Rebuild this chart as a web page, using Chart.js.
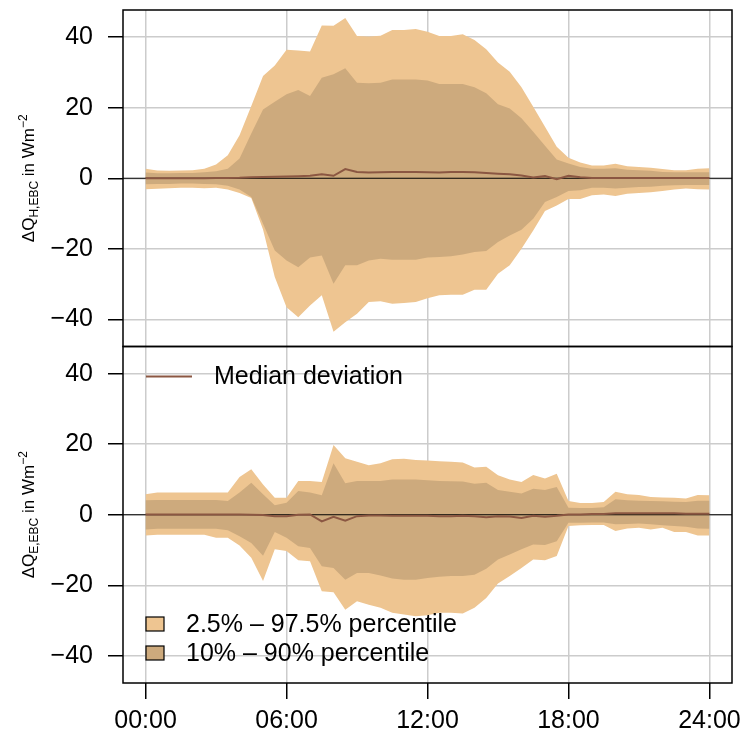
<!DOCTYPE html>
<html>
<head>
<meta charset="utf-8">
<script src="https://cdn.jsdelivr.net/npm/chart.js@4.4.0/dist/chart.umd.min.js"></script>
<style>
  html, body { margin: 0; padding: 0; background: #fff; }
  #wrap { position: relative; width: 743px; height: 740px; }
</style>
</head>
<body>
<div id="wrap"><canvas id="grafico"></canvas></div>
<script>
// horas do dia, de meia em meia hora
const HORAS = [0, 0.5, 1, 1.5, 2, 2.5, 3, 3.5, 4, 4.5, 5, 5.5, 6, 6.5, 7, 7.5, 8, 8.5, 9, 9.5,
  10, 10.5, 11, 11.5, 12, 12.5, 13, 13.5, 14, 14.5, 15, 15.5, 16, 16.5, 17, 17.5, 18, 18.5, 19, 19.5,
  20, 20.5, 21, 21.5, 22, 22.5, 23, 23.5, 24];

// painel de cima: delta Q_H
const H_P975 = [2.7, 2.2, 2.1, 2.2, 2.3, 2.7, 3.9, 6.5, 12.2, 20.5, 29, 32, 36.4, 36.2, 35.9, 43.3, 43.2, 45.4, 40.3, 40.2,
  40.4, 42, 42, 42.3, 41.5, 40.3, 40.3, 40.8, 39.2, 36.6, 32.8, 30.2, 25.8, 20.3, 14.6, 8.9, 5.8, 4.5, 3.6, 3.6,
  4.1, 3.4, 3.2, 3.0, 2.6, 2.3, 2.3, 2.7, 2.8];
const H_P90 = [1.6, 1.4, 1.4, 1.5, 1.5, 1.7, 2.0, 2.7, 5.6, 12.7, 19.5, 21.7, 23.8, 25, 23.3, 28.5, 29.5, 31.2, 27.1, 26.9,
  27.1, 28, 28, 28, 27.7, 26.7, 26.7, 26.7, 25.8, 24.1, 21, 19.8, 17, 13.2, 9.2, 5.3, 4.2, 3.2, 2.7, 2.7,
  2.8, 2.4, 2.3, 2.1, 1.8, 1.7, 1.7, 1.7, 1.7];
const H_P10 = [-1.7, -1.6, -1.6, -1.5, -1.5, -1.6, -1.7, -2.1, -3.2, -5.3, -12.9, -20.5, -23.3, -25.2, -22.5, -21.9, -29.9, -24.7, -24.7, -23.3,
  -22.8, -23.1, -23.1, -23.1, -22.5, -22.3, -22.1, -21.6, -20.9, -20.6, -18.1, -16.2, -14.6, -11.5, -6.7, -5.3, -3.6, -3.4, -2.7, -2.7,
  -2.9, -2.7, -2.5, -2.4, -2.1, -2.0, -1.9, -1.9, -1.9];
const H_P025 = [-3.1, -3.0, -2.8, -2.7, -2.7, -2.8, -2.7, -3.2, -4.2, -5.6, -14.5, -28, -36.6, -39.4, -36.1, -33.2, -43.5, -40.8, -38.4, -35.1,
  -34.9, -35.6, -35.4, -35.1, -34, -33.2, -33.0, -33.0, -31.6, -31.6, -27.1, -24.7, -20, -14.8, -9.3, -7.7, -5.9, -5.9, -4.8, -4.6,
  -5.0, -4.4, -4.2, -4.0, -3.6, -3.2, -2.9, -3.1, -3.2];
const H_MED = [0, 0, 0, 0, 0, 0, 0.05, 0.1, 0.15, 0.3, 0.35, 0.4, 0.5, 0.6, 0.7, 1.1, 0.7, 2.6, 1.8, 1.6,
  1.7, 1.8, 1.8, 1.8, 1.7, 1.6, 1.8, 1.8, 1.7, 1.5, 1.3, 1.1, 0.8, 0.2, 0.6, -0.3, 0.7, 0.3, 0.1, 0.1,
  0.1, 0.1, 0.1, 0.1, 0.1, 0.1, 0.1, 0.1, 0.1];

// painel de baixo: delta Q_E
const E_P975 = [5.8, 6.3, 6.3, 6.3, 6.3, 6.3, 6.3, 6.3, 10.7, 12.9, 8.6, 4.8, 4.8, 9.6, 9.6, 9.3, 19.8, 16, 15, 14,
  14.6, 15.7, 15.9, 15.5, 15.4, 15.2, 15, 14.8, 13.4, 13.6, 11.2, 10, 9.3, 11.3, 10.3, 11.6, 3.9, 3.3, 3.3, 3.6,
  6.5, 5.8, 5.6, 5.0, 4.9, 4.8, 4.6, 5.6, 5.5];
const E_P90 = [4.1, 4.2, 4.2, 4.2, 4.2, 4.2, 4.2, 3.9, 6.3, 9.1, 5.8, 2.7, 3.4, 6.7, 6.3, 5.5, 14.6, 8.9, 9.6, 9.6,
  9.6, 10, 10, 10, 9.8, 9.6, 9.5, 9.4, 8.8, 9.1, 7, 6.5, 6, 7.4, 7, 7.9, 2, 1.9, 1.9, 2.1,
  4.4, 4.1, 4, 3.9, 3.8, 3.7, 3.6, 4.0, 4.0];
const E_P10 = [-4.2, -4.0, -4.0, -4.0, -4.0, -4.0, -4.0, -4.4, -6.1, -8, -11.6, -4.9, -6.5, -8.9, -9.4, -14.6, -15.1, -18.4, -16.5, -16.5,
  -17.2, -18.1, -18.4, -18.4, -17.9, -17.6, -17.4, -17.4, -17, -15.3, -12.7, -11.3, -9.8, -8.4, -8.6, -7.5, -2.3, -2.3, -2.2, -2.2,
  -2.7, -2.6, -2.5, -2.7, -3, -3.2, -3.4, -3.9, -4.0];
const E_P025 = [-5.9, -5.7, -5.7, -5.7, -5.7, -5.7, -6.5, -6.5, -8.7, -12.2, -18.8, -9.8, -10.3, -12.9, -13.2, -21.7, -22, -26.9, -24.5, -25.5,
  -26.4, -27.8, -28.3, -28.8, -28.5, -27.8, -27.8, -28, -26.4, -23.6, -19.5, -17.4, -15.1, -12.7, -12.9, -11.7, -3.2, -3.0, -2.9, -2.9,
  -4.6, -3.9, -3.7, -4.2, -3.7, -4.9, -4.9, -5.9, -5.9];
const E_MED = [0.1, 0.1, 0.1, 0.1, 0.1, 0.1, 0.1, 0.1, 0.1, 0, -0.1, -0.4, -0.4, 0, 0.1, -1.9, -0.6, -1.7, -0.4, -0.2,
  -0.2, -0.3, -0.3, -0.3, -0.3, -0.4, -0.4, -0.3, -0.4, -0.7, -0.4, -0.5, -0.9, -0.3, -0.6, -0.3, 0.1, 0.1, 0.2, 0.2,
  0.4, 0.4, 0.4, 0.4, 0.4, 0.4, 0.3, 0.3, 0.3];

const X_TICKS = [0, 6, 12, 18, 24];
const X_LABELS = ['00:00', '06:00', '12:00', '18:00', '24:00'];
const Y_TICKS = [-40, -20, 0, 20, 40];
const LEGENDA = ['Median deviation', '2.5% \u2013 97.5% percentile', '10% \u2013 90% percentile'];

const COR_EXT = '#EEC591';
const COR_INT = '#CDAA7D';
const COR_MED = '#8B5742';
const FONTE = '"Liberation Sans", Arial, Helvetica, sans-serif';

function serie(vals) {
  return vals.map((v, i) => ({ x: HORAS[i], y: v }));
}

function banda(vals, eixo, cor, preencher, ordem) {
  return {
    data: serie(vals), yAxisID: eixo,
    backgroundColor: cor, borderColor: 'rgba(0,0,0,0)', borderWidth: 0,
    pointRadius: 0, fill: preencher ? '+1' : false, order: ordem
  };
}

function mediana(vals, eixo) {
  return {
    data: serie(vals), yAxisID: eixo, mediana: true,
    borderColor: COR_MED, borderWidth: 2, pointRadius: 0, fill: false, order: 1
  };
}

// eixo y de cada painel
function eixoY(peso) {
  return {
    type: 'linear', position: 'left', stack: 'paineis', stackWeight: 1, weight: peso,
    min: -47.7, max: 47.7,
    afterBuildTicks: s => { s.ticks = Y_TICKS.map(v => ({ value: v })); },
    afterFit: s => { s.width = 123; s.paddingTop = 0; s.paddingBottom = 0; },
    border: { display: false },
    grid: { color: '#cccccc', lineWidth: 1.5, tickColor: '#000', tickLength: 15, tickWidth: 1.5 },
    ticks: {
      color: '#000', padding: 15, autoSkip: false,
      font: { family: FONTE, size: 25 },
      callback: v => (v < 0 ? '\u2212' + Math.abs(v) : String(v))
    }
  };
}

// rotulo do eixo y com subscrito e sobrescrito
function tituloY(ctx, x, yc, sub) {
  const partes = [
    { t: '\u0394Q', s: 17, dy: 0 },
    { t: sub, s: 12, dy: 4 },
    { t: ' in Wm', s: 17, dy: 0 },
    { t: '\u22122', s: 12, dy: -7 }
  ];
  ctx.save();
  ctx.translate(x, yc);
  ctx.rotate(-Math.PI / 2);
  ctx.fillStyle = '#000';
  ctx.textBaseline = 'alphabetic';
  let total = 0;
  for (const p of partes) { ctx.font = p.s + 'px ' + FONTE; p.w = ctx.measureText(p.t).width; total += p.w; }
  let px = -total / 2;
  for (const p of partes) {
    ctx.font = p.s + 'px ' + FONTE;
    ctx.fillText(p.t, px, p.dy);
    px += p.w;
  }
  ctx.restore();
}

const extras = {
  id: 'extras',
  beforeDatasetDraw(chart, args) {
    const ds = chart.data.datasets[args.index];
    if (!ds.mediana) return;
    const ctx = chart.ctx, a = chart.chartArea;
    const y = chart.scales[ds.yAxisID].getPixelForValue(0);
    ctx.save();
    ctx.strokeStyle = '#000';
    ctx.lineWidth = 1.2;
    ctx.beginPath(); ctx.moveTo(a.left, y); ctx.lineTo(a.right, y); ctx.stroke();
    ctx.restore();
  },
  afterDraw(chart) {
    const ctx = chart.ctx, a = chart.chartArea;
    const yH = chart.scales.yH, yE = chart.scales.yE;
    ctx.save();
    ctx.strokeStyle = '#000';
    ctx.lineWidth = 1.5;
    for (const s of [yH, yE]) ctx.strokeRect(a.left, s.top, a.right - a.left, s.bottom - s.top);

    tituloY(ctx, 34, (yH.top + yH.bottom) / 2, 'H,EBC');
    tituloY(ctx, 34, (yE.top + yE.bottom) / 2, 'E,EBC');

    // legenda
    ctx.font = '25px ' + FONTE;
    ctx.fillStyle = '#000';
    ctx.textBaseline = 'middle';
    ctx.textAlign = 'left';
    const lm = yE.top + 30;
    ctx.strokeStyle = COR_MED; ctx.lineWidth = 2;
    ctx.beginPath(); ctx.moveTo(a.left + 23, lm); ctx.lineTo(a.left + 69, lm); ctx.stroke();
    ctx.fillText(LEGENDA[0], a.left + 91, lm + 1);

    const caixas = [[COR_EXT, yE.bottom - 66], [COR_INT, yE.bottom - 37]];
    caixas.forEach(([cor, yt], i) => {
      ctx.fillStyle = cor;
      ctx.fillRect(a.left + 23, yt, 18, 14);
      ctx.strokeStyle = '#000'; ctx.lineWidth = 1.2;
      ctx.strokeRect(a.left + 23, yt, 18, 14);
      ctx.fillStyle = '#000';
      ctx.fillText(LEGENDA[i + 1], a.left + 63, yt + 8);
    });
    ctx.restore();
  }
};

new Chart(document.getElementById('grafico'), {
  type: 'line',
  data: {
    datasets: [
      banda(H_P975, 'yH', COR_EXT, true, 5),
      banda(H_P025, 'yH', COR_EXT, false, 5),
      banda(H_P90, 'yH', COR_INT, true, 4),
      banda(H_P10, 'yH', COR_INT, false, 4),
      mediana(H_MED, 'yH'),
      banda(E_P975, 'yE', COR_EXT, true, 5),
      banda(E_P025, 'yE', COR_EXT, false, 5),
      banda(E_P90, 'yE', COR_INT, true, 4),
      banda(E_P10, 'yE', COR_INT, false, 4),
      mediana(E_MED, 'yE')
    ]
  },
  options: {
    responsive: true,
    maintainAspectRatio: false,
    animation: false,
    layout: { padding: { left: 0, right: 11, top: 10, bottom: 0 } },
    elements: { line: { tension: 0 } },
    plugins: { legend: { display: false }, tooltip: { enabled: false } },
    scales: {
      x: {
        type: 'linear', position: 'bottom', min: -0.96, max: 24.96,
        afterBuildTicks: s => { s.ticks = X_TICKS.map(v => ({ value: v })); },
        afterFit: s => { s.height = 57; s.paddingLeft = 0; s.paddingRight = 0; },
        border: { display: false },
        grid: { color: '#cccccc', lineWidth: 1.5, tickColor: '#000', tickLength: 16, tickWidth: 1.5 },
        ticks: {
          color: '#000', padding: 7, autoSkip: false, maxRotation: 0,
          font: { family: FONTE, size: 25 },
          callback: (v, i) => X_LABELS[i]
        }
      },
      yH: eixoY(2),
      yE: eixoY(1)
    }
  },
  plugins: [extras]
});
</script>
</body>
</html>
